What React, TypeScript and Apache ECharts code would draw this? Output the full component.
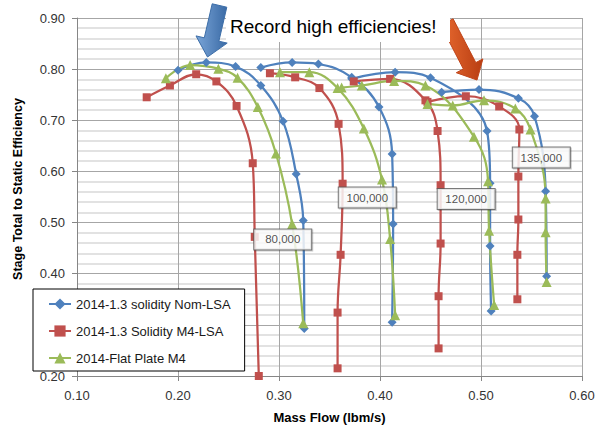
import React, { useEffect, useRef } from "react";
import * as echarts from "echarts";

// Series names (legend)
const seriesNames = [
  "2014-1.3 solidity Nom-LSA",
  "2014-1.3 Solidity M4-LSA",
  "2014-Flat Plate M4",
];

// [mass flow (lbm/s), efficiency] — 2014-1.3 solidity Nom-LSA
const nom80k = [[0.200, 0.798], [0.228, 0.813], [0.257, 0.805], [0.282, 0.768], [0.304, 0.698], [0.317, 0.595], [0.324, 0.504], [0.325, 0.293]];
const nom100k = [[0.282, 0.803], [0.313, 0.813], [0.339, 0.810], [0.372, 0.784], [0.399, 0.726], [0.412, 0.634], [0.413, 0.497], [0.412, 0.305]];
const nom120k = [[0.372, 0.781], [0.415, 0.794], [0.450, 0.783], [0.506, 0.679], [0.509, 0.577], [0.509, 0.454], [0.510, 0.327]];
const nom135k = [[0.461, 0.755], [0.498, 0.760], [0.537, 0.743], [0.553, 0.708], [0.564, 0.561], [0.565, 0.395]];

// 2014-1.3 Solidity M4-LSA
const m4lsa80k = [[0.169, 0.745], [0.192, 0.768], [0.218, 0.790], [0.238, 0.776], [0.258, 0.728], [0.274, 0.616], [0.276, 0.472], [0.280, 0.200]];
const m4lsa100k = [[0.291, 0.792], [0.316, 0.784], [0.340, 0.763], [0.359, 0.693], [0.363, 0.576], [0.361, 0.437], [0.358, 0.324], [0.358, 0.215]];
const m4lsa120k = [[0.374, 0.776], [0.410, 0.781], [0.445, 0.739], [0.457, 0.679], [0.460, 0.573], [0.460, 0.459], [0.458, 0.356], [0.458, 0.254]];
const m4lsa135k = [[0.447, 0.736], [0.485, 0.747], [0.518, 0.727], [0.538, 0.682], [0.537, 0.590], [0.537, 0.506], [0.536, 0.437], [0.536, 0.350]];

// 2014-Flat Plate M4
const flat80k = [[0.188, 0.782], [0.212, 0.808], [0.240, 0.801], [0.259, 0.783], [0.279, 0.726], [0.297, 0.635], [0.313, 0.497], [0.324, 0.303]];
const flat100k = [[0.301, 0.794], [0.330, 0.794], [0.358, 0.763], [0.384, 0.684], [0.402, 0.584], [0.410, 0.468], [0.415, 0.319]];
const flat120k = [[0.362, 0.764], [0.382, 0.768], [0.414, 0.777], [0.445, 0.768], [0.493, 0.668], [0.507, 0.581], [0.508, 0.484], [0.513, 0.339]];
const flat135k = [[0.447, 0.732], [0.472, 0.729], [0.503, 0.739], [0.534, 0.723], [0.549, 0.682], [0.564, 0.547], [0.564, 0.481], [0.565, 0.384]];

// Speed-line labels and their anchor (data coords)
const speedLabels = ["80,000", "100,000", "120,000", "135,000"];
const speedLabelPos = [[0.3037, 0.467], [0.3874, 0.549], [0.4853, 0.546], [0.5597, 0.627]];

const annotationText = "Record high efficiencies!";

const FONT = "'Liberation Sans', Arial, sans-serif";

export default function App() {
  const ref = useRef<HTMLDivElement>(null);

  useEffect(() => {
    document.body.style.margin = "0";
    if (!ref.current) return;
    const chart = echarts.init(ref.current, undefined, { renderer: "svg" });

    const groups = [
      { name: seriesNames[0], color: "#4F81BD", symbol: "diamond", size: 9, lines: [nom80k, nom100k, nom120k, nom135k] },
      { name: seriesNames[1], color: "#C0504D", symbol: "rect", size: 8, lines: [m4lsa80k, m4lsa100k, m4lsa120k, m4lsa135k] },
      { name: seriesNames[2], color: "#9BBB59", symbol: "triangle", size: 10, lines: [flat80k, flat100k, flat120k, flat135k] },
    ];

    const series: any[] = [];
    groups.forEach((g) => {
      g.lines.forEach((d) => {
        series.push({
          type: "line",
          name: g.name,
          data: d,
          smooth: 0.4,
          symbol: g.symbol,
          symbolSize: g.size,
          showSymbol: true,
          lineStyle: { color: g.color, width: 2.25 },
          itemStyle: { color: g.color },
          emphasis: { disabled: true },
        });
      });
    });

    series.push({
      type: "scatter",
      name: "speeds",
      data: speedLabelPos.map((p, i) => ({ value: p, name: speedLabels[i] })),
      symbolSize: 0,
      z: 10,
      silent: true,
      label: {
        show: true,
        position: "inside",
        formatter: (p: any) => p.name,
        fontFamily: FONT,
        fontSize: 11.5,
        color: "#1f1f1f",
        backgroundColor: "#ffffff",
        borderColor: "#595959",
        borderWidth: 1,
        width: 55,
        height: 12,
        lineHeight: 12,
        align: "center",
        verticalAlign: "middle",
        padding: [4, 1],
        shadowColor: "rgba(0,0,0,0.25)",
        shadowOffsetX: 1,
        shadowOffsetY: 1,
        shadowBlur: 1,
      },
    });

    // Arrow geometry (decorative annotation)
    const blueArrow = [[212.2, 3.8], [226.8, 7.2], [218.9, 41.2], [227.2, 43.1], [207.5, 57], [196, 35.9], [204.3, 37.8]];
    const orangeArrow = [[440.7, 25.2], [453.1, 18.8], [475.8, 62.6], [482.9, 58.9], [477, 80], [456.3, 72.7], [463.4, 69]];

    chart.setOption({
      animation: false,
      grid: { left: 77, right: 19, top: 18, bottom: 49, containLabel: false },
      legend: {
        data: seriesNames,
        orient: "vertical",
        left: 33,
        top: 289,
        width: 196,
        padding: [8, 14, 6, 15],
        itemWidth: 22,
        itemHeight: 14,
        itemGap: 13,
        backgroundColor: "#ffffff",
        borderColor: "#000000",
        borderWidth: 1,
        textStyle: { fontFamily: FONT, fontSize: 13, color: "#1a1a1a", lineHeight: 14 },
        selectedMode: false,
      },
      xAxis: {
        type: "value",
        min: 0.1,
        max: 0.6,
        interval: 0.1,
        name: "Mass Flow (lbm/s)",
        nameLocation: "middle",
        nameGap: 35,
        nameTextStyle: { fontFamily: FONT, fontSize: 13, fontWeight: "bold", color: "#000" },
        axisLine: { show: true, lineStyle: { color: "#868686" } },
        axisTick: { show: true, length: 5, lineStyle: { color: "#868686" } },
        axisLabel: { fontFamily: FONT, fontSize: 13, color: "#333", margin: 13, formatter: (v: number) => v.toFixed(2) },
        splitLine: { show: true, lineStyle: { color: "#a6a6a6", width: 1 } },
      },
      yAxis: {
        type: "value",
        min: 0.2,
        max: 0.9,
        interval: 0.1,
        axisLine: { show: true, lineStyle: { color: "#868686" } },
        axisTick: { show: true, length: 5, lineStyle: { color: "#868686" } },
        axisLabel: { fontFamily: FONT, fontSize: 13, color: "#333", margin: 12, formatter: (v: number) => v.toFixed(2) },
        splitLine: { show: true, lineStyle: { color: "#a6a6a6", width: 1 } },
        minorTick: { show: false, splitNumber: 5 },
        minorSplitLine: { show: true, lineStyle: { color: "#d9d9d9", width: 1.5 } },
      },
      series,
      graphic: [
        {
          type: "text",
          x: 18,
          y: 189,
          rotation: Math.PI / 2,
          style: {
            text: "Stage Total to Static Efficiency",
            fontFamily: FONT,
            fontSize: 12.5,
            fontWeight: "bold",
            fill: "#000",
            align: "center",
            verticalAlign: "middle",
          },
          z: 100,
        },
        {
          type: "rect",
          shape: { x: 226, y: 8, width: 224, height: 34 },
          style: { fill: "#ffffff" },
          z: 100,
        },
        {
          type: "text",
          x: 230,
          y: 26,
          style: {
            text: annotationText,
            fontFamily: FONT,
            fontSize: 19,
            fill: "#000",
            align: "left",
            verticalAlign: "middle",
          },
          z: 101,
        },
        {
          type: "polygon",
          shape: { points: blueArrow },
          style: {
            fill: new echarts.graphic.LinearGradient(0, 0, 1, 0, [
              { offset: 0, color: "#7aa5d8" },
              { offset: 1, color: "#3a6aa5" },
            ]),
            stroke: "#3d6ea8",
            lineWidth: 1,
          },
          z: 102,
        },
        {
          type: "polygon",
          shape: { points: orangeArrow },
          style: {
            fill: new echarts.graphic.LinearGradient(0, 0, 1, 0, [
              { offset: 0, color: "#e86a30" },
              { offset: 1, color: "#b83d12" },
            ]),
            stroke: "#c0451a",
            lineWidth: 1,
          },
          z: 99,
        },
      ],
    });

    return () => chart.dispose();
  }, []);

  return <div ref={ref} style={{ width: 601, height: 429 }} />;
}
